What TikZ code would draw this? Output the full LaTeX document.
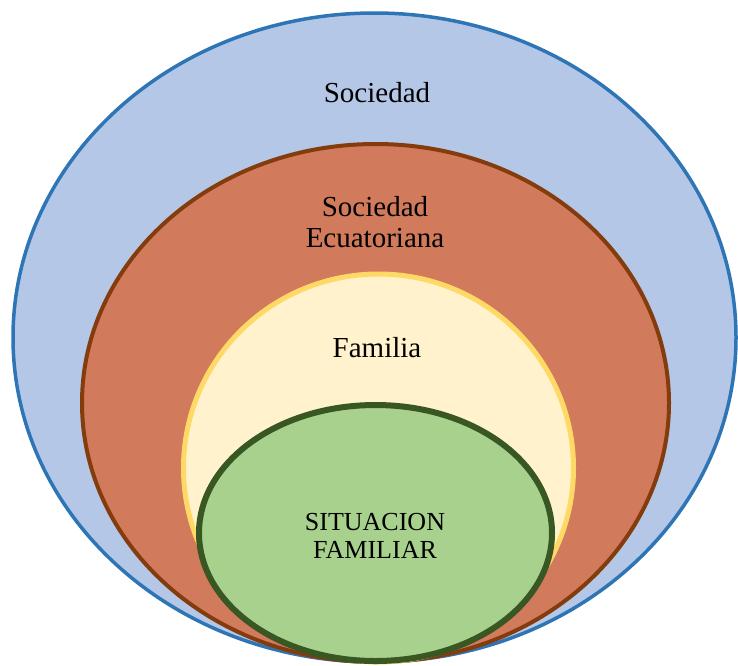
\documentclass[tikz,border=0pt]{standalone}
\usepackage{fontspec}
\setmainfont{Liberation Serif}
\usetikzlibrary{shapes.geometric}
\definecolor{blueFill}{HTML}{B4C7E7}
\definecolor{blueLine}{HTML}{2E75B6}
\definecolor{redFill}{HTML}{D27A5C}
\definecolor{redLine}{HTML}{843C0C}
\definecolor{yelFill}{HTML}{FFF2CC}
\definecolor{yelLine}{HTML}{FFD966}
\definecolor{grnFill}{HTML}{A9D18E}
\definecolor{grnLine}{HTML}{385723}
\tikzset{
  ring/.style={ellipse, inner sep=0pt, outer sep=0pt},
  bigtext/.style={font=\fontsize{29}{31}\selectfont, align=center, text=black, inner sep=0pt},
  smalltext/.style={font=\fontsize{26}{28}\selectfont, align=center, text=black, inner sep=0pt}
}
\begin{document}
\begin{tikzpicture}[x=1pt,y=-1pt]
\useasboundingbox (0,0) rectangle (738,665);
\node[ring, draw=blueLine, fill=blueFill, line width=3.5pt, minimum width=723pt, minimum height=649pt] (soc) at (374.5,337.5) {};
\node[ring, draw=redLine, fill=redFill, line width=4pt, minimum width=587pt, minimum height=518pt] (ecu) at (375.5,403) {};
\node[ring, draw=yelLine, fill=yelFill, line width=5pt, minimum width=390pt, minimum height=388pt] (fam) at (378.5,468) {};
\node[ring, draw=grnLine, fill=grnFill, line width=6pt, minimum width=353pt, minimum height=256pt] (sit) at (375.5,533) {};
\node[bigtext] (tsoc) at (377,93) {Sociedad};
\node[bigtext] (tecu) at (375,222) {Sociedad\\Ecuatoriana};
\node[bigtext] (tfam) at (377,348) {Familia};
\node[smalltext] (tsit) at (375,536) {SITUACION\\FAMILIAR};
\end{tikzpicture}
\end{document}
